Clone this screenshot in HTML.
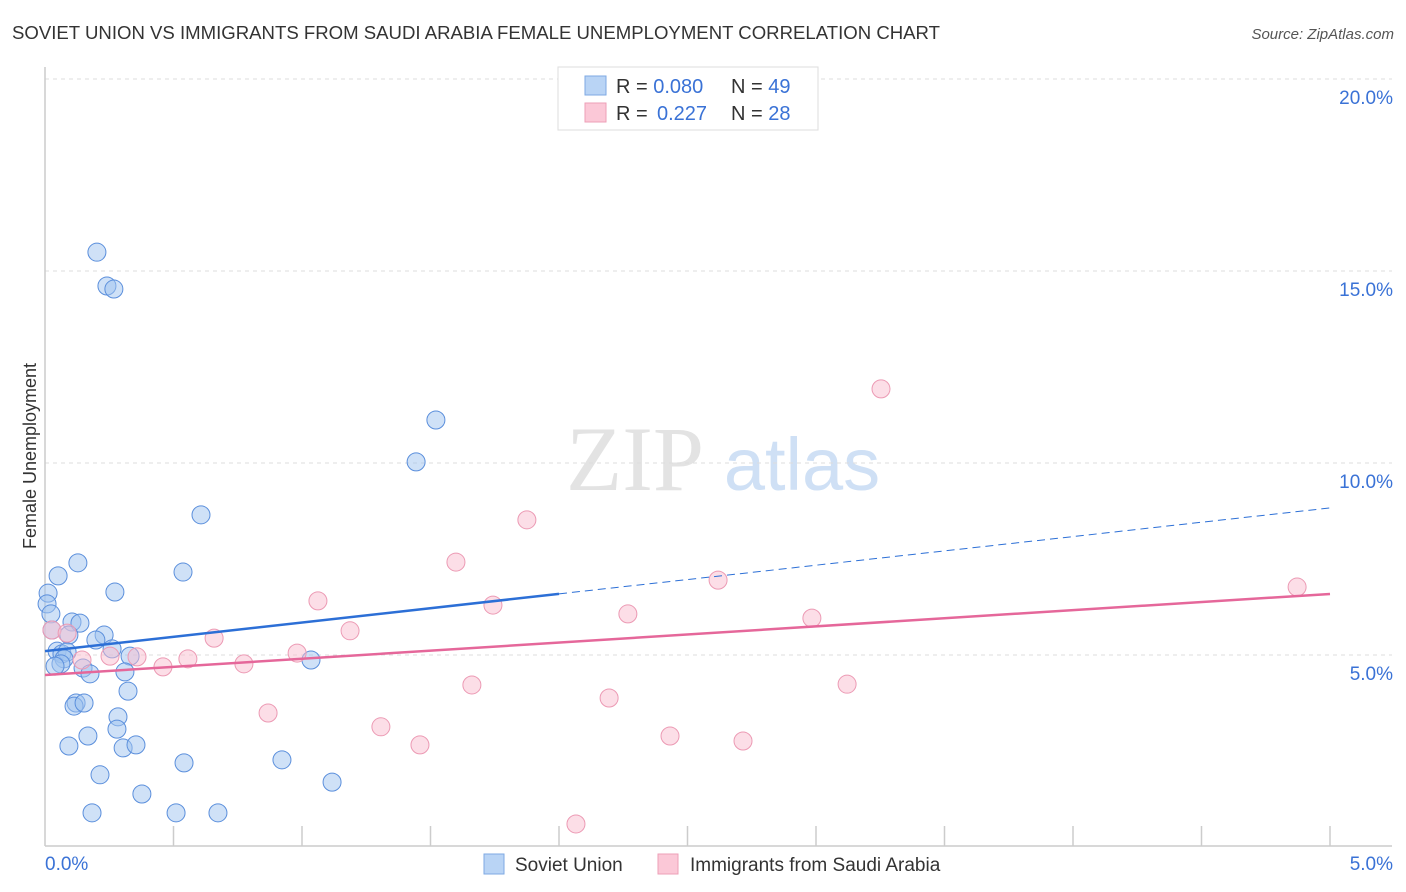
<!DOCTYPE html>
<html><head><meta charset="utf-8"><style>
body{margin:0;background:#fff;font-family:"Liberation Sans",sans-serif;}
svg{display:block}
</style></head><body>
<svg id="chart" width="1406" height="892" xmlns="http://www.w3.org/2000/svg">
<text x="12" y="39" font-size="18" fill="#333" textLength="928" lengthAdjust="spacingAndGlyphs">SOVIET UNION VS IMMIGRANTS FROM SAUDI ARABIA FEMALE UNEMPLOYMENT CORRELATION CHART</text>
<text x="1394" y="39" font-size="15" fill="#555" font-style="italic" text-anchor="end">Source: ZipAtlas.com</text>
<text x="36" y="456" font-size="18" fill="#333" text-anchor="middle" transform="rotate(-90 36 456)">Female Unemployment</text>
<g>
<text x="635" y="490" font-size="92" fill="#e3e3e3" font-family="Liberation Serif,serif" text-anchor="middle">ZIP</text>
<text x="802" y="490" font-size="74" fill="#cfe0f5" text-anchor="middle">atlas</text>
</g>
<g id="grid"></g>
<g id="axes"></g>
<g id="marks"></g>
<g>
<rect x="558" y="67" width="260" height="63" fill="#fff" stroke="#ddd"/>
<rect x="585" y="76" width="21" height="19" fill="#b9d4f5" stroke="#7ea9e3"/>
<rect x="585" y="103" width="21" height="19" fill="#fbc8d7" stroke="#ee9fb7"/>
<text x="616" y="93" font-size="20" fill="#333">R = <tspan fill="#3a72d6">0.080</tspan><tspan x="731">N = </tspan><tspan fill="#3a72d6">49</tspan></text>
<text x="616" y="120" font-size="20" fill="#333">R = <tspan x="657" fill="#3a72d6">0.227</tspan><tspan x="731">N = </tspan><tspan fill="#3a72d6">28</tspan></text>
</g>
<g>
<rect x="484" y="854" width="20" height="20" fill="#b9d4f5" stroke="#7ea9e3"/>
<text x="515" y="871" font-size="19" fill="#333">Soviet Union</text>
<rect x="658" y="854" width="20" height="20" fill="#fbc8d7" stroke="#ee9fb7"/>
<text x="690" y="871" font-size="19" fill="#333">Immigrants from Saudi Arabia</text>
</g>
</svg>
<script>
const blueX=[0.202,0.241,0.268,1.521,1.444,0.607,0.537,0.128,0.051,0.272,0.012,0.008,0.023,0.105,0.136,0.230,0.198,0.093,0.027,0.261,0.047,0.066,0.086,0.074,0.062,0.039,0.148,0.175,0.331,0.311,1.035,0.323,0.121,0.113,0.152,0.284,0.280,0.167,0.093,0.304,0.354,0.541,0.922,0.214,1.117,0.377,0.183,0.510,0.673];
const blueY=[15.49,14.61,14.53,11.12,10.03,8.65,7.16,7.40,7.06,6.64,6.61,6.33,6.07,5.86,5.83,5.52,5.39,5.52,5.65,5.16,5.10,5.03,5.08,4.90,4.77,4.71,4.66,4.51,4.97,4.56,4.87,4.06,3.75,3.67,3.75,3.39,3.07,2.89,2.63,2.58,2.66,2.19,2.27,1.88,1.69,1.38,0.89,0.89,0.89];
const pinkX=[0.027,0.086,0.144,0.253,0.358,0.459,0.556,0.658,0.774,0.868,0.981,1.062,1.187,1.307,1.459,1.599,1.661,1.743,1.875,2.066,2.195,2.268,2.432,2.619,2.716,2.984,3.121,3.253,4.872];
const pinkY=[5.65,5.57,4.87,4.97,4.95,4.69,4.90,5.44,4.77,3.49,5.05,6.41,5.63,3.13,2.66,7.42,4.22,6.30,8.52,0.60,3.88,6.07,2.89,6.95,2.76,5.96,4.24,11.93,6.77];
const blueTrend=[5.10,8.83];
const pinkTrend=[4.48,6.59];
const yTicks=[5,10,15,20];
const xTickLabels=["0.0%","5.0%"];
const NS="http://www.w3.org/2000/svg";
const sx=v=>45+v*257, sy=v=>847-v*38.4;
function mk(tag,attrs,parent){const e=document.createElementNS(NS,tag);for(const k in attrs)e.setAttribute(k,attrs[k]);parent.appendChild(e);return e;}
const grid=document.getElementById('grid'),axes=document.getElementById('axes'),marks=document.getElementById('marks');
yTicks.forEach(t=>{
 const l=mk('line',{x1:45,x2:1392,y1:sy(t),y2:sy(t),stroke:'#ddd','stroke-dasharray':'4,4'},grid);
 
 
 const tx=mk('text',{x:1393,y:sy(t)+25,'font-size':19,fill:'#3a72d6','text-anchor':'end'},axes);
 tx.textContent=t.toFixed(1)+'%';
 
 
});
const al=mk('line',{x1:45,x2:45,y1:67,y2:846,stroke:'#ccc','stroke-width':1.5},axes);


const bl=mk('line',{x1:45,x2:1392,y1:846,y2:846,stroke:'#ccc','stroke-width':1.5},axes);


for(let i=1;i<=10;i++){
 const tk=mk('line',{x1:sx(i*0.5),x2:sx(i*0.5),y1:826,y2:846,stroke:'#ccc','stroke-width':1.5},axes);
 
 
}
const xl0=mk('text',{x:45,y:870,'font-size':19,fill:'#3a72d6'},axes);xl0.textContent=xTickLabels[0];


const xl1=mk('text',{x:1393,y:870,'font-size':19,fill:'#3a72d6','text-anchor':'end'},axes);xl1.textContent=xTickLabels[1];


blueX.forEach((x,i)=>{
 const c=mk('circle',{cx:sx(x),cy:sy(blueY[i]),r:9,fill:'rgba(160,196,240,0.5)',stroke:'#5b8fdc','stroke-width':1},marks);
 
 
});
pinkX.forEach((x,i)=>{
 const c=mk('circle',{cx:sx(x),cy:sy(pinkY[i]),r:9,fill:'rgba(249,190,208,0.5)',stroke:'#ec9ab4','stroke-width':1},marks);
 
 
});
const bAt=x=>blueTrend[0]+(blueTrend[1]-blueTrend[0])*x/5;
const b1=mk('line',{x1:sx(0),y1:sy(bAt(0)),x2:sx(2),y2:sy(bAt(2)),stroke:'#2c6fd6','stroke-width':2.5},marks);


const b2=mk('line',{x1:sx(2),y1:sy(bAt(2)),x2:sx(5),y2:sy(bAt(5)),stroke:'#2c6fd6','stroke-width':1,'stroke-dasharray':'8,5'},marks);


const p1=mk('line',{x1:sx(0),y1:sy(pinkTrend[0]),x2:sx(5),y2:sy(pinkTrend[1]),stroke:'#e5679a','stroke-width':2.5},marks);


</script>
</body></html>
